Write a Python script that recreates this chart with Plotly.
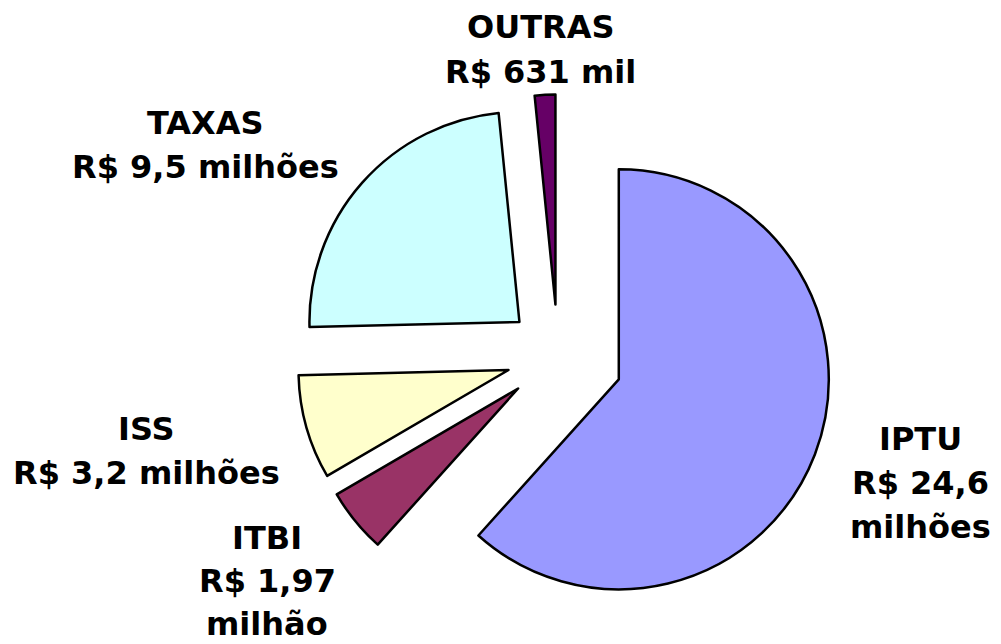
import plotly.graph_objects as go

# ---- data ----
categories = ["IPTU", "ITBI", "ISS", "TAXAS", "OUTRAS"]
values_millions = [24.6, 1.97, 3.2, 9.5, 0.631]
value_labels = [
    ["R$ 24,6", "milhões"],
    ["R$ 1,97", "milhão"],
    ["R$ 3,2 milhões"],
    ["R$ 9,5 milhões"],
    ["R$ 631 mil"],
]

# ---- styling ----
colors = ["#9999FF", "#993366", "#FFFFCC", "#CCFFFF", "#660066"]
pulls = [0.31, 0.245, 0.245, 0.245, 0.245]

# page body has an 8px margin: figure pixel = screen pixel - 8
OFF = 8
W, H = 993, 636

# pie box in screen pixels (left, top, right, bottom)
pie_box = (282.9, 80.9, 833.1, 631.1)

# label placement in screen pixels (centre x, first-line centre y, line gap)
label_pos = {
    "IPTU": (920, 439, 44),
    "ITBI": (267, 538, 43),
    "ISS": (146, 429, 44),
    "TAXAS": (205, 123, 44),
    "OUTRAS": (540, 27, 45),
}
FONT = dict(family="DejaVu Sans", size=32, color="black")


def px_x(x):
    return (x - OFF) / W


def px_y(y):
    return 1 - (y - OFF) / H


fig = go.Figure(
    go.Pie(
        labels=categories,
        values=values_millions,
        sort=False,
        direction="clockwise",
        rotation=0,
        pull=pulls,
        marker=dict(colors=colors, line=dict(color="black", width=2.5)),
        textinfo="none",
        hoverinfo="label+value",
        showlegend=False,
        domain=dict(
            x=[px_x(pie_box[0]), px_x(pie_box[2])],
            y=[px_y(pie_box[3]), px_y(pie_box[1])],
        ),
    )
)

annotations = []
for cat, lines in zip(categories, value_labels):
    sx, sy, gap = label_pos[cat]
    for i, txt in enumerate([cat] + lines):
        annotations.append(
            dict(
                text="<b>" + txt + "</b>",
                x=px_x(sx),
                y=px_y(sy + i * gap),
                xref="paper",
                yref="paper",
                xanchor="center",
                yanchor="middle",
                showarrow=False,
                font=FONT,
            )
        )

fig.update_layout(
    width=W,
    height=H,
    margin=dict(l=0, r=0, t=0, b=0),
    paper_bgcolor="white",
    plot_bgcolor="white",
    annotations=annotations,
)

fig.write_html("out.html")
